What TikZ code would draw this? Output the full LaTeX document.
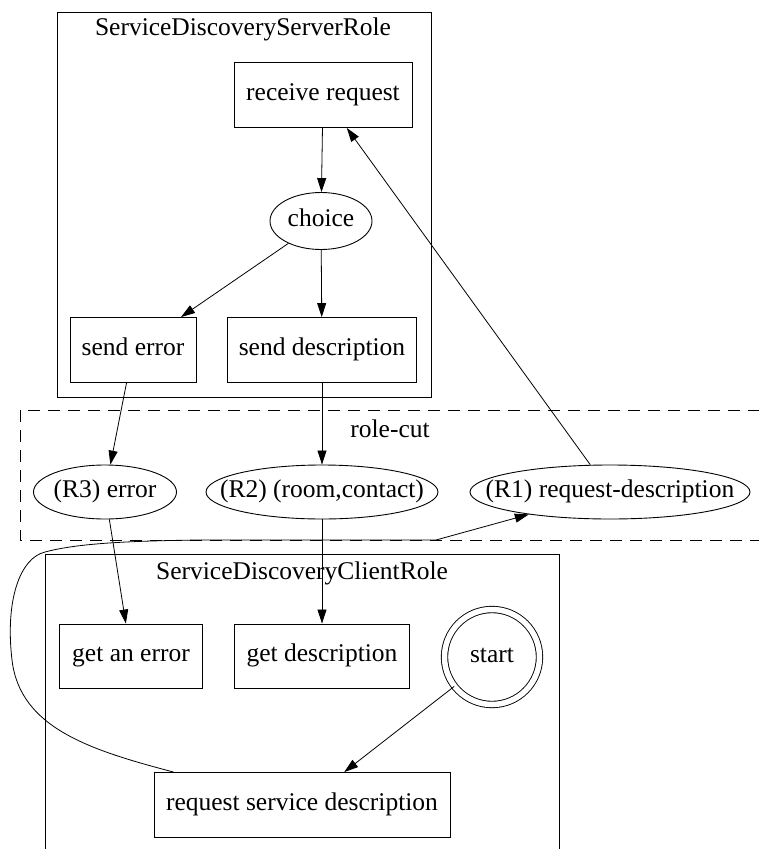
\documentclass[tikz,border=0pt]{standalone}
\usepackage{fontspec}
\setmainfont{Liberation Serif}
\usetikzlibrary{arrows.meta,shapes.geometric,calc}
\newcommand{\zw}[1]{\makebox[0pt][c]{#1}}
\begin{document}
\begin{tikzpicture}[x=1pt,y=-1pt,
  every node/.style={font=\fontsize{25.5}{30}\selectfont, inner sep=0pt, text height=17pt, text depth=6pt},
  titletext/.style={font=\fontsize{25.5}{30}\selectfont},
  box/.style={draw, line width=0.9pt, rectangle, minimum width=#1, minimum height=65pt},
  oval/.style={draw, line width=0.9pt, ellipse, minimum width=#1, minimum height=54pt},
  arr/.style={line width=0.8pt, -{Triangle[length=14pt,width=9pt]}},
  cluster/.style={draw, line width=1pt},
  cutbox/.style={draw, line width=1pt, dash pattern=on 12pt off 8pt},
]
\useasboundingbox (0,0) rectangle (759,849);
% clusters
\draw[cluster] (57,12) rectangle (431,397);
\node[titletext] (stitle) at (243,30) {ServiceDiscoveryServerRole};
\draw[cutbox] (20,410) rectangle (790,540);
\node (rolecut) at (390,432) {role-cut};
\draw[cluster] (45,554) rectangle (559,880);
\node[titletext] (ctitle) at (302,574) {ServiceDiscoveryClientRole};
% server nodes
\node[box=178pt] (rr) at (323,95) {receive request};
\node[oval=102pt, minimum height=57pt] (choice) at (321,221) {\zw{choice}};
\node[box=126pt] (se) at (133,350) {send error};
\node[box=189pt] (sd) at (322,350) {send description};
% role-cut nodes
\node[oval=143pt] (r3) at (105,492) {\zw{(R3) error}};
\node[oval=232pt] (r2) at (322,492) {\zw{(R2) (room,contact)}};
\node[oval=280pt] (r1) at (610,492) {\zw{(R1) request-description}};
% client nodes
\node[box=143pt, minimum height=64pt] (gae) at (131,656) {get an error};
\node[box=175pt, minimum height=64pt] (gd) at (322,656) {get description};
\node[draw, circle, line width=0.9pt, double=white, double distance=5.5pt, minimum size=95pt] (start) at (492,657) {\zw{start}};
\node[box=296pt] (rsd) at (302,805) {request service description};
% connectors
\draw[arr] (rr) -- (choice);
\draw[arr] (choice) -- (se);
\draw[arr] (choice) -- (sd);
\draw[arr] (se) -- (r3);
\draw[arr] (sd) -- (r2);
\draw[arr] (r1) -- (rr);
\draw[arr] (r3) -- (gae);
\draw[arr] (r2) -- (gd);
\draw[arr] (start) -- (rsd);
\coordinate (w1) at (12,660);
\coordinate (w2) at (45,552);
\coordinate (w3) at (436,540);
\draw[arr] ($(rsd.north west)+(20,0)$) .. controls (90,750) and (20,728) .. (w1)
  .. controls (5,600) and (20,558) .. (w2)
  .. controls (75,544) and (120,541) .. (200,540) -- (w3) -- (r1);
\end{tikzpicture}
\end{document}
